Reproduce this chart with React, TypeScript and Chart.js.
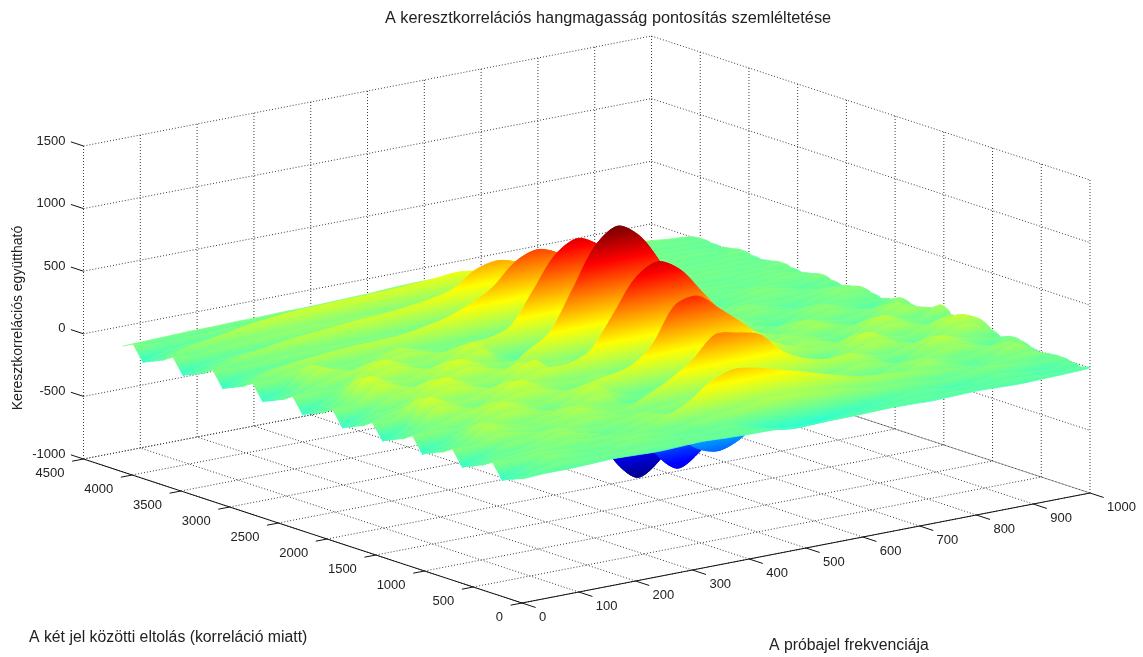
import React, { useEffect, useRef } from "react";
import { Chart, registerables } from "chart.js";

Chart.register(...registerables);

const titleText = "A keresztkorrelációs hangmagasság pontosítás szemléltetése";
const zAxisTitle = "Keresztkorrelációs együttható";
const lagAxisTitle = "A két jel közötti eltolás (korreláció miatt)";
const freqAxisTitle = "A próbajel frekvenciája";

const freqTicks = [0, 100, 200, 300, 400, 500, 600, 700, 800, 900, 1000];
const lagTicks = [0, 500, 1000, 1500, 2000, 2500, 3000, 3500, 4000, 4500];
const zTicks = [-1000, -500, 0, 500, 1000, 1500];

const freqValues = [0, 40, 80, 120, 160, 200, 240, 280, 320, 360, 400, 440, 480, 520, 560, 600, 640, 680, 720, 760, 800, 840, 880, 920, 960, 1000];
const lagStep = 102.4;

// one row per lag (0, 102.4, ... 4096), one value per entry of freqValues
const surfaceRows: number[][] = [
  [-10,0,-1,5,11,5,-1,5,11,2,-4,-7,-15,-20,-20,-17,-12,-14,-20,-15,-10,-15,-20,-15,-10,0],
  [-40,-10,22,17,12,17,22,17,12,5,0,-23,-51,-65,-58,-46,-37,-25,-16,-20,-28,-20,-12,-20,-28,-20],
  [-75,-20,49,30,11,30,49,30,11,10,15,-30,-88,-110,-97,-73,-56,-29,-5,-15,-35,-15,5,-15,-35,-5],
  [45,30,50,38,26,38,50,38,26,60,80,100,130,130,120,100,70,50,40,20,5,25,45,25,5,10],
  [-5,20,32,47,62,47,32,47,100,170,300,370,350,300,250,195,145,110,95,75,55,35,15,35,55,5],
  [-40,5,19,55,91,55,19,55,91,60,20,40,50,45,40,40,60,50,20,45,95,45,-5,45,95,-10],
  [-75,-20,44,64,84,64,44,64,84,20,-30,-83,-174,-232,-204,-134,-49,-10,5,55,85,55,25,55,85,10],
  [45,40,96,72,48,72,96,72,48,60,80,90,120,131,123,94,60,60,95,65,30,65,100,65,30,35],
  [-5,30,133,81,60,81,133,81,60,130,220,340,510,490,440,270,180,140,150,75,0,75,150,75,0,40],
  [-40,10,118,89,60,89,118,89,60,50,60,30,10,-5,6,15,20,50,100,80,40,80,120,80,40,10],
  [-75,-15,66,98,130,98,66,98,130,0,-80,-260,-440,-503,-441,-292,-122,-30,-5,85,128,85,42,85,128,50],
  [45,50,36,102,168,102,36,102,168,70,20,60,87,90,77,76,107,70,5,85,170,85,0,85,170,100],
  [-5,30,74,110,146,110,74,110,146,180,220,360,640,680,540,390,230,140,90,85,128,85,42,85,128,70],
  [-40,20,152,115,78,115,152,115,78,60,70,20,-24,-30,-16,-1,5,45,100,80,40,80,120,80,40,30],
  [-75,-5,196,119,42,119,196,119,42,-10,-20,-280,-591,-747,-643,-446,-273,-89,70,75,-5,75,155,75,-5,60],
  [45,50,163,123,83,123,163,123,83,70,85,40,38,50,53,46,30,50,90,70,32,70,108,70,32,110],
  [-5,40,87,128,169,128,87,128,169,170,240,485,750,850,750,530,320,170,90,65,100,65,30,65,100,60],
  [-40,20,46,128,210,128,46,128,210,70,-20,4,-9,-40,-37,-13,36,30,-10,50,110,50,-10,50,110,20],
  [-75,-5,87,128,169,128,87,128,169,-30,-161,-420,-760,-925,-813,-564,-293,-133,-67,45,72,45,18,45,72,40],
  [45,55,169,128,87,128,169,128,87,70,90,40,38,50,49,40,25,35,60,35,10,35,60,35,10,60],
  [-5,45,210,128,46,128,210,128,60,170,285,590,905,1030,910,640,360,190,130,30,-15,30,75,30,-15,25],
  [-40,20,169,128,87,128,169,128,87,70,85,26,11,15,18,18,15,28,46,30,10,30,50,30,10,5],
  [-75,-5,83,123,163,123,83,123,163,-20,-140,-380,-680,-800,-703,-488,-257,-118,-59,25,45,25,5,25,45,25],
  [45,45,42,119,196,119,42,119,196,65,-10,24,30,13,10,16,35,20,-8,25,60,25,-10,25,60,45],
  [-5,30,78,115,152,115,78,115,152,165,225,470,730,826,728,520,300,160,90,25,40,25,10,25,40,25],
  [-40,10,135,102,69,102,135,102,69,60,80,53,72,93,86,66,38,34,43,25,10,25,40,25,10,5],
  [-75,-10,140,85,30,85,140,85,30,-10,-30,-280,-540,-640,-558,-390,-227,-94,-6,22,-6,22,50,22,-6,20],
  [45,45,90,68,46,68,90,68,46,50,50,11,-2,-3,1,5,4,15,31,22,10,22,35,22,10,40],
  [-5,60,100,120,135,145,150,160,190,230,300,400,570,633,560,395,225,115,60,20,35,20,10,20,35,20],
  [-40,15,50,60,65,65,65,70,70,65,70,60,75,90,80,60,40,30,30,20,30,20,15,20,30,5],
  [-75,-15,10,20,25,25,20,20,15,-5,-50,-200,-380,-450,-395,-275,-150,-70,-25,18,25,18,10,18,25,15],
  [45,30,40,50,55,55,55,55,50,40,30,10,-8,-15,-10,0,5,15,20,18,15,18,25,18,15,30],
  [-5,40,80,110,135,150,165,180,190,210,235,280,400,440,385,270,150,80,45,20,15,20,25,20,15,15],
  [-40,5,40,50,60,65,65,70,70,70,70,60,70,80,70,50,35,25,20,15,18,15,20,15,18,0],
  [-75,-20,5,15,20,20,15,15,10,0,-30,-105,-200,-260,-228,-160,-90,-40,-10,12,18,12,15,12,18,10],
  [45,30,50,60,70,75,80,80,80,75,70,50,10,-8,-5,3,8,12,15,15,12,15,18,15,12,25],
  [-5,60,90,120,150,170,185,190,195,200,205,215,228,243,215,150,85,45,28,20,25,30,25,20,15,10],
  [-40,5,25,40,55,60,65,70,70,70,70,65,65,76,68,50,30,20,15,18,25,30,25,18,12,-5],
  [-75,-20,0,5,10,10,15,15,10,5,0,-30,-70,-90,-80,-55,-30,-10,5,15,25,28,20,15,8,0],
  [45,15,15,20,25,25,25,25,25,25,25,15,-5,-15,-10,0,10,20,30,35,40,40,35,25,15,10],
  [5,10,15,20,20,25,25,30,30,35,40,45,55,60,60,55,50,45,50,60,65,60,50,35,15,0],
];

const Z_MIN = -925;
const Z_MAX = 1030;
const LAG_MAX = 4500;
const FREQ_MAX = 1000;
const Z_FLOOR = -1000;
const Z_CEIL = 1500;
const W = 1143;
const H = 657;

// orthographic view of the box: screen position of one data point
const view = { ox: 522, oy: 603, fx: 0.568, fy: -0.11, lx: -0.09744, ly: -0.032, zy: -0.1252 };
function project(f: number, lag: number, z: number) {
  return {
    x: view.ox + view.fx * f + view.lx * lag,
    y: view.oy + view.fy * f + view.ly * lag + view.zy * (z - Z_FLOOR),
  };
}

function jet(t: number) {
  const c = (v: number) => Math.round(255 * Math.max(0, Math.min(1, v)));
  const r = Math.min(4 * t - 1.5, -4 * t + 4.5);
  const g = Math.min(4 * t - 0.5, -4 * t + 3.5);
  const b = Math.min(4 * t + 0.5, -4 * t + 2.5);
  return `rgb(${c(r)},${c(g)},${c(b)})`;
}

function stripGradient(ctx: CanvasRenderingContext2D, meanLag: number) {
  const a = -view.fy / view.fx;
  const b = -view.zy;
  const p = project(0, meanLag, Z_MIN);
  const k = (-b * (Z_MAX - Z_MIN)) / (a * a + 1);
  const g = ctx.createLinearGradient(p.x, p.y, p.x + k * a, p.y + k);
  for (let s = 0; s <= 16; s++) g.addColorStop(s / 16, jet(s / 16));
  return g;
}

const surfaceFill = {
  id: "surfaceFill",
  beforeDatasetDraw(chart: any, args: any) {
    const ds = chart.data.datasets[args.index];
    if (!ds.isStrip) return;
    const ctx = chart.ctx;
    const line = args.meta.dataset;
    line.updateControlPoints(chart.chartArea, "x");
    ctx.save();
    ctx.beginPath();
    line.path(ctx);
    ctx.closePath();
    ctx.fillStyle = ds.backgroundColor;
    ctx.fill();
    ctx.restore();
  },
};

const labelColor = "#222";
const labelFont = '13px "Liberation Sans", Arial, sans-serif';
const titleFont = '16.3px "Liberation Sans", Arial, sans-serif';
const axisTitleFont = '15.8px "Liberation Sans", Arial, sans-serif';
const zTitleFont = '14px "Liberation Sans", Arial, sans-serif';

const textLayer = {
  id: "textLayer",
  afterDraw(chart: any) {
    const ctx = chart.ctx;
    const sx = chart.scales.x;
    const sy = chart.scales.y;
    const put = (t: string, x: number, y: number, align: CanvasTextAlign) => {
      ctx.textAlign = align;
      ctx.fillText(t, sx.getPixelForValue(x), sy.getPixelForValue(y));
    };
    ctx.save();
    ctx.fillStyle = labelColor;
    ctx.textBaseline = "middle";
    ctx.font = labelFont;
    zTicks.forEach((z) => {
      const p = project(0, LAG_MAX, z);
      put(String(z), p.x - 18, p.y - 5, "right");
    });
    lagTicks.forEach((l) => {
      const p = project(0, l, Z_FLOOR);
      put(String(l), p.x - 19, p.y + 14, "right");
    });
    freqTicks.forEach((f) => {
      const p = project(f, 0, Z_FLOOR);
      put(String(f), p.x + 17, p.y + 14, "left");
    });
    ctx.font = titleFont;
    put(titleText, 608, 19, "center");
    ctx.font = axisTitleFont;
    put(lagAxisTitle, 29, 638, "left");
    put(freqAxisTitle, 769, 646, "left");
    ctx.font = zTitleFont;
    ctx.translate(18, 318);
    ctx.rotate(-Math.PI / 2);
    ctx.textAlign = "center";
    ctx.fillText(zAxisTitle, 0, 0);
    ctx.restore();
  },
};

function seg(a: { x: number; y: number }, b: { x: number; y: number }, dotted: boolean) {
  return {
    data: [a, b],
    borderColor: dotted ? "#3a3a3a" : "#111",
    borderWidth: 1,
    borderDash: dotted ? [1, 2] : [],
    tension: 0,
    pointRadius: 0,
    fill: false,
  };
}

export default function App() {
  const ref = useRef<HTMLCanvasElement>(null);
  useEffect(() => {
    const canvas = ref.current!;
    const ctx = canvas.getContext("2d")!;

    const axes: any[] = [];
    axes.push(seg(project(0, LAG_MAX, Z_FLOOR), project(0, 0, Z_FLOOR), false));
    axes.push(seg(project(0, 0, Z_FLOOR), project(FREQ_MAX, 0, Z_FLOOR), false));
    lagTicks.forEach((l) => axes.push(seg(project(0, l, Z_FLOOR), project(-20, l, Z_FLOOR), false)));
    freqTicks.forEach((f) => axes.push(seg(project(f, 0, Z_FLOOR), project(f, -140, Z_FLOOR), false)));
    zTicks.forEach((z) => axes.push(seg(project(0, LAG_MAX, z), project(0, LAG_MAX + 130, z), false)));

    const strips: any[] = [];
    for (let j = 0; j < surfaceRows.length - 1; j++) {
      const near = surfaceRows[j];
      const far = surfaceRows[j + 1];
      const pts: { x: number; y: number }[] = [];
      near.forEach((z, i) => pts.push(project(freqValues[i], j * lagStep, z)));
      for (let i = far.length - 1; i >= 0; i--) pts.push(project(freqValues[i], (j + 1) * lagStep, far[i]));
      const g = stripGradient(ctx, (j + 0.5) * lagStep);
      strips.push({
        isStrip: true,
        data: pts,
        borderColor: g,
        backgroundColor: g,
        borderWidth: 0.8,
        tension: 0.3,
        pointRadius: 0,
        fill: false,
      });
    }

    const grid: any[] = [];
    freqTicks.forEach((f) => {
      grid.push(seg(project(f, LAG_MAX, Z_FLOOR), project(f, LAG_MAX, Z_CEIL), true));
      grid.push(seg(project(f, 0, Z_FLOOR), project(f, LAG_MAX, Z_FLOOR), true));
    });
    lagTicks.forEach((l) => {
      grid.push(seg(project(FREQ_MAX, l, Z_FLOOR), project(FREQ_MAX, l, Z_CEIL), true));
      grid.push(seg(project(0, l, Z_FLOOR), project(FREQ_MAX, l, Z_FLOOR), true));
    });
    zTicks.forEach((z) => {
      grid.push(seg(project(0, LAG_MAX, z), project(FREQ_MAX, LAG_MAX, z), true));
      grid.push(seg(project(FREQ_MAX, LAG_MAX, z), project(FREQ_MAX, 0, z), true));
    });

    const chart = new Chart(ctx, {
      type: "scatter",
      data: { datasets: [...axes, ...strips, ...grid] },
      options: {
        responsive: false,
        animation: false,
        parsing: false,
        showLine: true,
        layout: { padding: 0 },
        plugins: { legend: { display: false }, tooltip: { enabled: false }, title: { display: false } },
        scales: {
          x: { type: "linear", display: false, min: 0, max: W },
          y: { type: "linear", display: false, min: 0, max: H, reverse: true },
        },
      } as any,
      plugins: [surfaceFill, textLayer],
    } as any);
    return () => chart.destroy();
  }, []);
  return (
    <div style={{ position: "fixed", left: 0, top: 0, width: W, height: H, background: "#fff" }}>
      <canvas ref={ref} width={W} height={H} style={{ display: "block" }} />
    </div>
  );
}
